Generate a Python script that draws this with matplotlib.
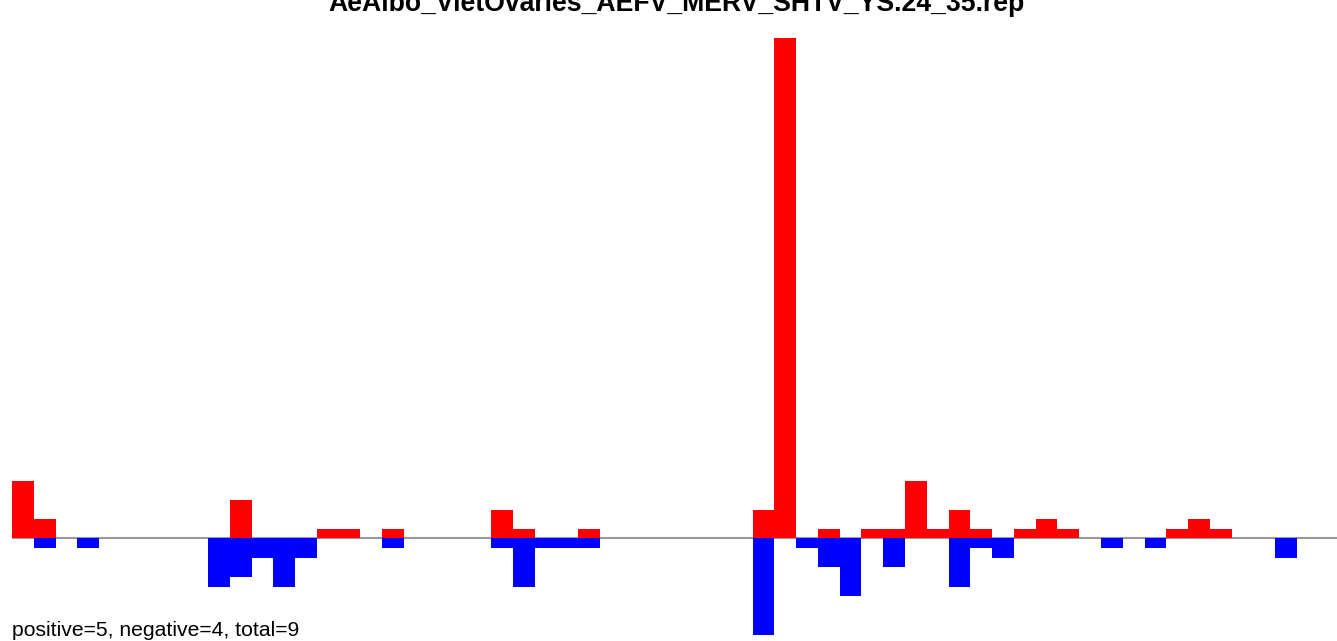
import matplotlib
matplotlib.use("Agg")
import matplotlib.pyplot as plt

title = "AeAlbo_VietOvaries_AEFV_MERV_SHTV_YS.24_35.rep"
footer = "positive=5, negative=4, total=9"

# positive (red) counts by bin index
pos_idx = [0, 1, 10, 14, 15, 17, 22, 23, 26, 34, 35, 37, 39, 40, 41, 42, 43, 44, 46, 47, 48, 53, 54, 55]
pos_val = [6, 2, 4, 1, 1, 1, 3, 1, 1, 3, 52, 1, 1, 1, 6, 1, 3, 1, 1, 2, 1, 1, 2, 1]
# negative (blue) counts by bin index
neg_idx = [1, 3, 9, 10, 11, 12, 13, 17, 22, 23, 24, 25, 26, 34, 36, 37, 38, 40, 43, 44, 45, 50, 52, 58]
neg_val = [1, 1, 5, 4, 2, 5, 2, 1, 1, 5, 1, 1, 1, 10, 1, 3, 6, 3, 5, 1, 2, 1, 1, 2]

W, H = 1337, 641
fig = plt.figure(figsize=(W / 100, H / 100), dpi=100)
ax = fig.add_axes([12 / W, 0, 1 - 12 / W, (H - 38) / H])
ax.set_xlim(0, (W - 12) / 21.78)
ax.set_ylim(-10.66, 52)
ax.axis("off")

ax.axhline(0, color="#999999", lw=1.5, zorder=1)
ax.bar(pos_idx, pos_val, width=1.0, align="edge", color="#ff0000", linewidth=0, zorder=2)
ax.bar(neg_idx, [-v for v in neg_val], width=1.0, align="edge", color="#0000ff", linewidth=0, zorder=3)

fig.text(676 / W, 1 - 11 / H, title, ha="center", va="baseline",
         fontsize=19.2, fontweight="bold", family="Liberation Sans")
fig.text(12 / W, 1 - 636 / H, footer, ha="left", va="baseline",
         fontsize=15.2, family="Liberation Sans")

fig.savefig("out.png", dpi=100)
